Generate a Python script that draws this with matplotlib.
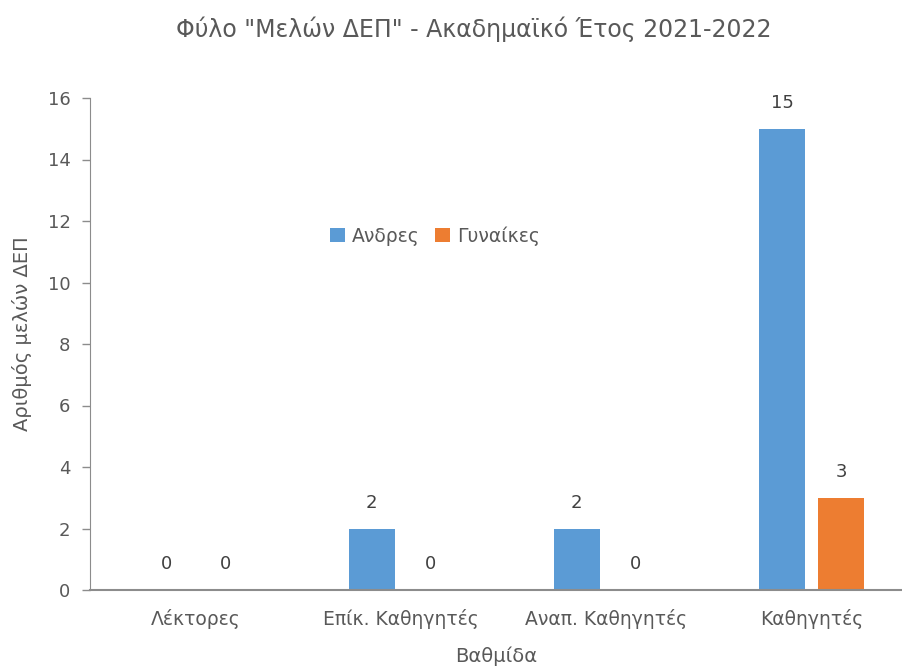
import matplotlib.pyplot as plt
import numpy as np

categories = ['Λέκτορες', 'Επίκ. Καθηγητές', 'Αναπ. Καθηγητές', 'Καθηγητές']
men = [0, 2, 2, 15]
women = [0, 0, 0, 3]
series_names = ['Ανδρες', 'Γυναίκες']

plt.rcParams['font.family'] = ['DejaVu Sans']
txt = '#595959'
axc = '#8c8c8c'

fig = plt.figure(figsize=(9.02, 6.70), dpi=100)
ax = fig.add_axes([90 / 902, 80 / 670, 812 / 902, 492 / 670])

x = np.arange(len(categories))
w = 0.224
off = 0.144
b1 = ax.bar(x - off, men, w, color='#5B9BD5', label=series_names[0])
b2 = ax.bar(x + off, women, w, color='#ED7D31', label=series_names[1])

for bars, vals in ((b1, men), (b2, women)):
    for r, v in zip(bars, vals):
        ax.annotate(str(v), (r.get_x() + r.get_width() / 2, v),
                    xytext=(0, 12), textcoords='offset points',
                    ha='center', va='bottom', fontsize=13, color='#404040')

ax.set_xlim(-0.516, 3.44)
ax.set_ylim(0, 16)
ax.set_yticks(range(0, 17, 2))
ax.set_xticks(x)
ax.set_xticklabels(categories)
ax.tick_params(axis='x', length=0, pad=14, labelsize=13.5, labelcolor=txt)
ax.tick_params(axis='y', length=6, width=1, color=axc, pad=8, labelsize=13, labelcolor=txt)

for s in ('top', 'right'):
    ax.spines[s].set_visible(False)
for s in ('left', 'bottom'):
    ax.spines[s].set_color(axc)
ax.spines['bottom'].set_linewidth(1.5)

ax.set_ylabel('Αριθμός μελών ΔΕΠ', fontsize=14, color=txt, labelpad=10)
ax.yaxis.set_label_coords(-0.072, 0.52)
ax.set_xlabel('Βαθμίδα', fontsize=14, color=txt, labelpad=12)

leg = ax.legend(loc='center', bbox_to_anchor=(0.425, 0.72), ncol=2, frameon=False,
                fontsize=13.5, handlelength=0.8, handleheight=0.8, handletextpad=0.4,
                columnspacing=0.8)
for t in leg.get_texts():
    t.set_color(txt)

fig.suptitle('Φύλο "Μελών ΔΕΠ" - Ακαδημαϊκό Έτος 2021-2022', x=0.525, y=0.975,
             fontsize=17, color=txt)

fig.savefig('out.png', dpi=100)
